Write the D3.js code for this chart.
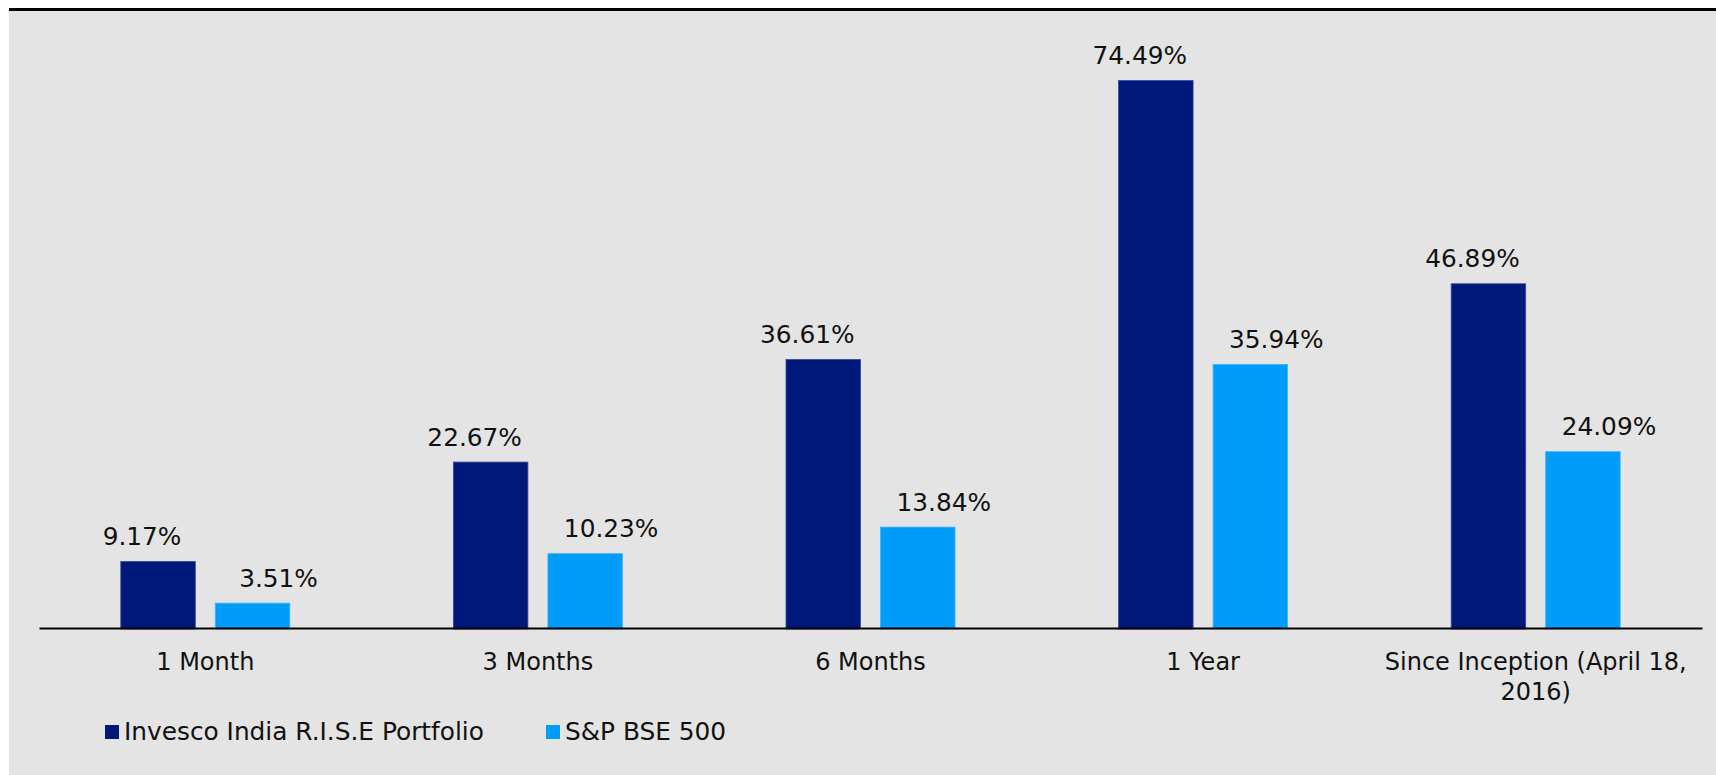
<!DOCTYPE html>
<html>
<head>
<meta charset="utf-8">
<script src="https://cdn.jsdelivr.net/npm/d3@7"></script>
<style>
  html, body { margin: 0; padding: 0; background: #fff; }
  svg text { font-family: "DejaVu Sans", Verdana, sans-serif; fill: #111; }
</style>
</head>
<body>
<svg id="chart" width="1716" height="775"></svg>
<script>
// chart data
const categories = ["1 Month", "3 Months", "6 Months", "1 Year", "Since Inception (April 18, 2016)"];
const seriesNames = ["Invesco India R.I.S.E Portfolio", "S&P BSE 500"];
const portfolio = [9.17, 22.67, 36.61, 74.49, 46.89];
const benchmark = [3.51, 10.23, 13.84, 35.94, 24.09];

const colors = ["#00187A", "#009CF9"];
const labelShift = [-16, 26];

const width = 1716, height = 775;
const svg = d3.select("#chart");

// background + top rule
svg.append("rect").attr("x", 9).attr("y", 8).attr("width", width - 9).attr("height", height - 8).attr("fill", "#E4E4E4");
svg.append("rect").attr("x", 9).attr("y", 8).attr("width", width - 9).attr("height", 3).attr("fill", "#000");

const x0 = d3.scaleBand().domain(categories).range([39, 1702]).padding(0);
const x1 = d3.scaleBand().domain(seriesNames).range([0, x0.bandwidth()])
    .paddingInner(0.2116).paddingOuter(0.8656);
const y = d3.scaleLinear().domain([0, 80]).range([629, 40]);

const rows = categories.map((c, i) => ({ cat: c, vals: [portfolio[i], benchmark[i]] }));

const groups = svg.append("g")
    .selectAll("g")
    .data(rows)
    .join("g")
    .attr("transform", d => `translate(${x0(d.cat)},0)`);

groups.selectAll("rect")
    .data(d => d.vals.map((v, j) => ({ v, j })))
    .join("rect")
    .attr("x", d => x1(seriesNames[d.j]))
    .attr("y", d => y(d.v))
    .attr("width", x1.bandwidth())
    .attr("height", d => y(0) - y(d.v))
    .attr("fill", d => colors[d.j])
    .attr("stroke", d => d.j == 0 ? "#3548a0" : "#3fb2fb")
    .attr("stroke-width", 0.8);

groups.selectAll("text")
    .data(d => d.vals.map((v, j) => ({ v, j })))
    .join("text")
    .attr("x", d => x1(seriesNames[d.j]) + x1.bandwidth() / 2 + labelShift[d.j])
    .attr("y", d => y(d.v) - 16.5)
    .attr("text-anchor", "middle")
    .style("font-size", "24.8px")
    .text(d => d.v.toFixed(2) + "%");

// category axis
const xAxis = svg.append("g")
    .attr("transform", "translate(0,628)")
    .call(d3.axisBottom(x0).tickSize(0).tickPadding(25));
xAxis.select(".domain").attr("stroke", "#000").attr("stroke-width", 2);
xAxis.selectAll(".tick text")
    .style("font-size", "24px")
    .attr("fill", "#111")
    .style("font-family", "'DejaVu Sans', Verdana, sans-serif")
    .call(wrap, x0.bandwidth() - 10);

function wrap(sel, w) {
    sel.each(function () {
        const t = d3.select(this);
        const words = t.text().split(/\s+/);
        const yy = t.attr("y"), dy = parseFloat(t.attr("dy"));
        t.text(null);
        let line = [], lineNo = 0;
        let tspan = t.append("tspan").attr("x", 0).attr("y", yy).attr("dy", dy + "em");
        for (const word of words) {
            line.push(word);
            tspan.text(line.join(" "));
            if (tspan.node().getComputedTextLength() > w && line.length > 1) {
                line.pop();
                tspan.text(line.join(" "));
                line = [word];
                lineNo++;
                tspan = t.append("tspan").attr("x", 0).attr("y", yy)
                    .attr("dy", (lineNo * 1.23 + dy) + "em").text(word);
            }
        }
    });
}

// legend
const legendX = [105, 546];
const legend = svg.append("g")
    .selectAll("g")
    .data(seriesNames)
    .join("g")
    .attr("transform", (d, i) => `translate(${legendX[i]},725)`);
legend.append("rect").attr("width", 14).attr("height", 14).attr("fill", (d, i) => colors[i]);
legend.append("text").attr("x", 19).attr("y", 15).style("font-size", "24.8px").text(d => d);
</script>
</body>
</html>
